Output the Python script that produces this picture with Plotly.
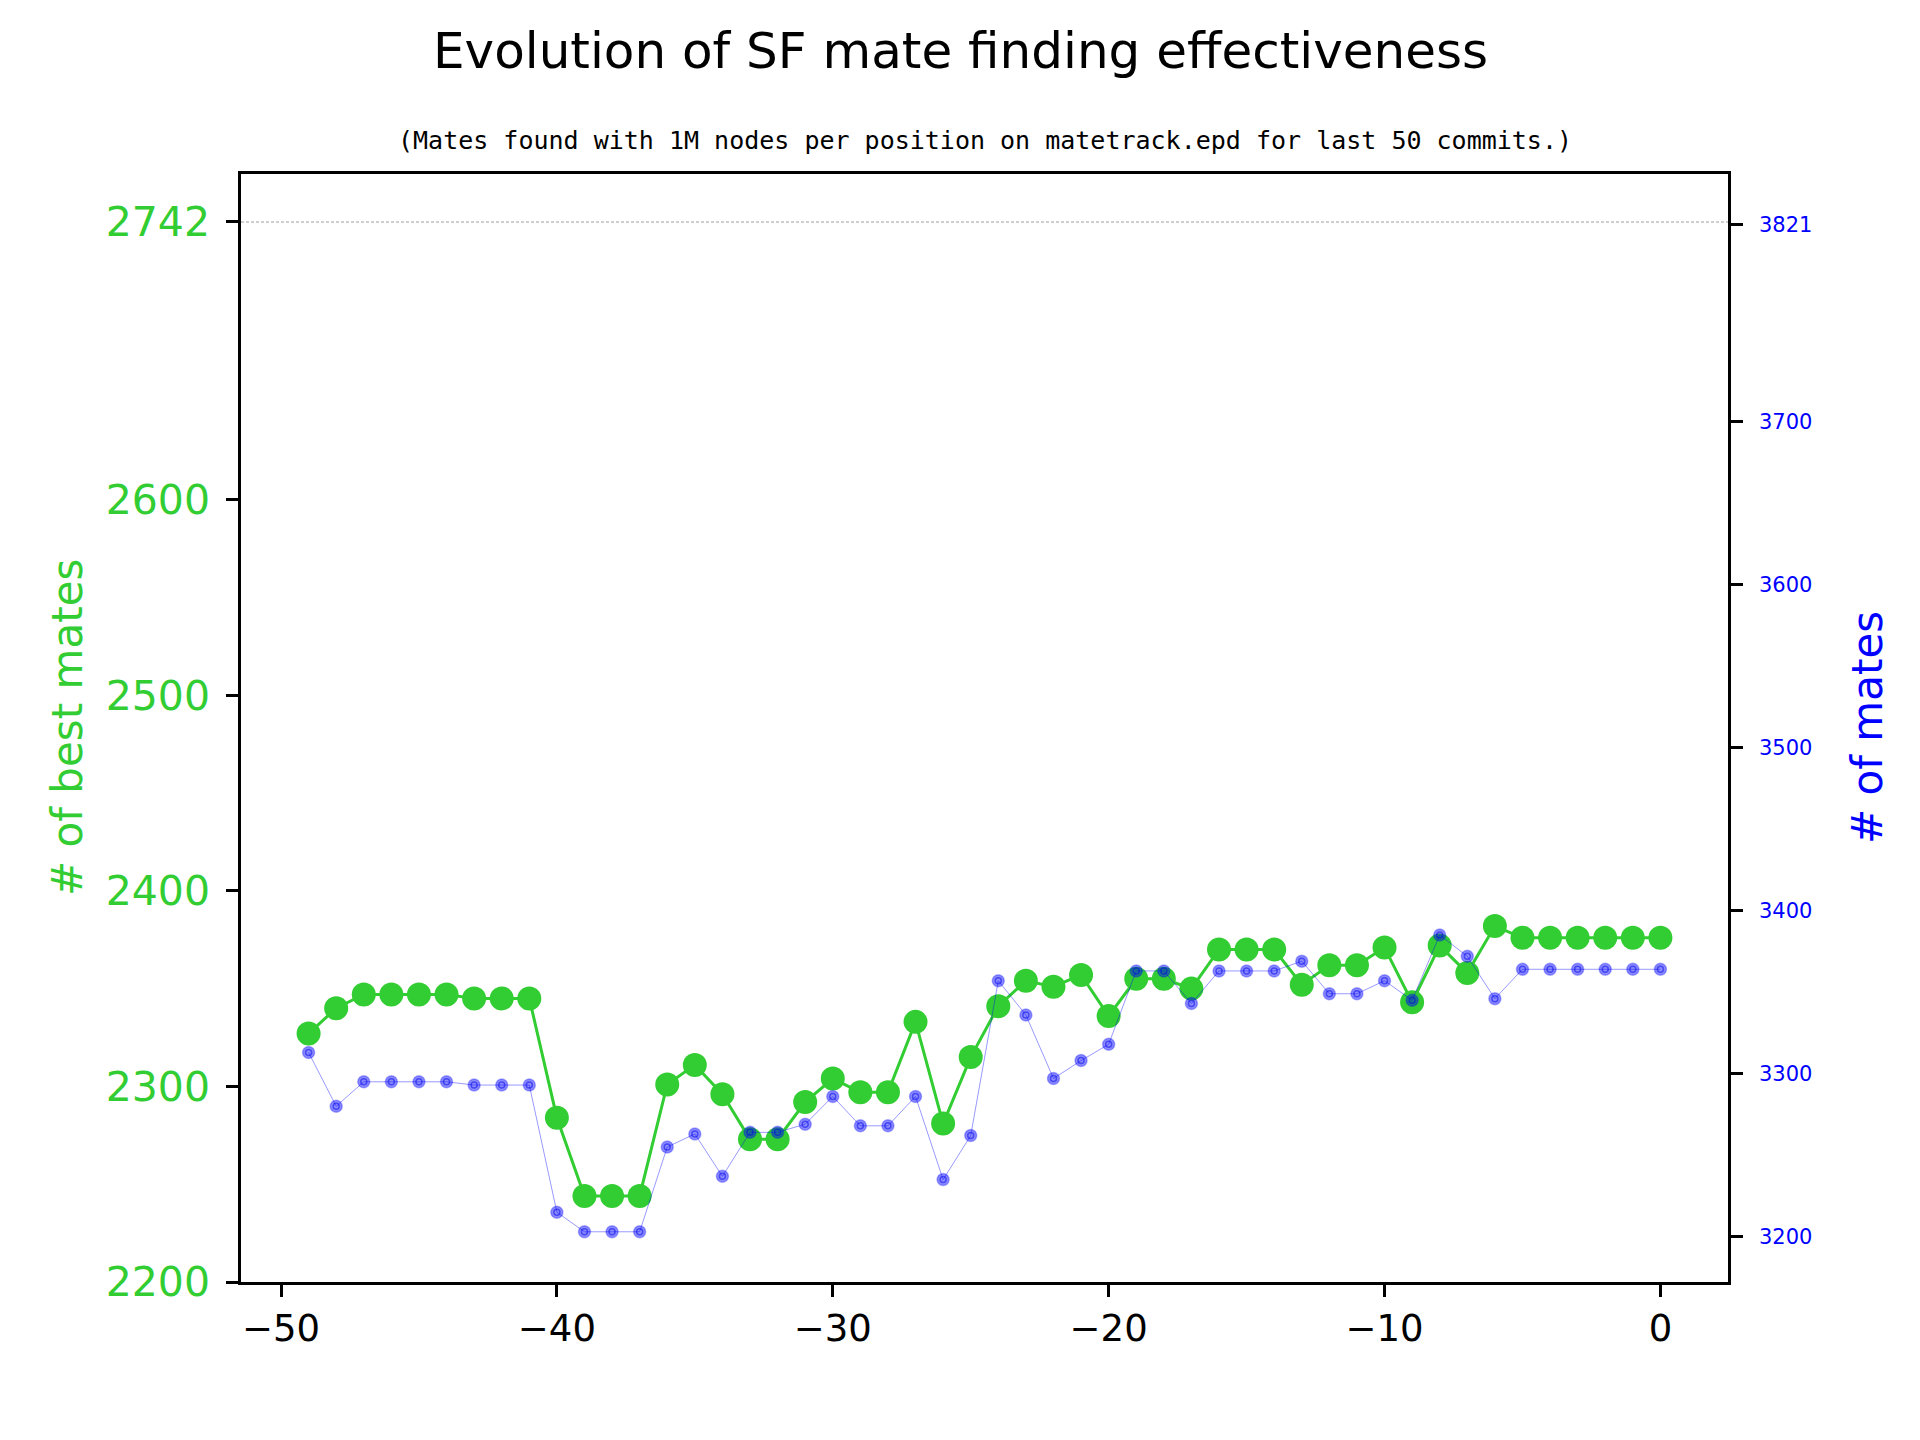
import plotly.graph_objects as go

# ---- data ----
commits = list(range(-49, 1))

best_mates = [2327, 2340, 2347, 2347, 2347, 2347, 2345, 2345, 2345, 2284,
              2244, 2244, 2244, 2301, 2311, 2296, 2273, 2273, 2292, 2304,
              2297, 2297, 2333, 2281, 2315, 2341, 2354, 2351, 2357, 2336,
              2355, 2355, 2350, 2370, 2370, 2370, 2352, 2362, 2362, 2371,
              2343, 2372, 2358, 2382, 2376, 2376, 2376, 2376, 2376, 2376]

mates = [3313, 3280, 3295, 3295, 3295, 3295, 3293, 3293, 3293, 3215,
         3203, 3203, 3203, 3255, 3263, 3237, 3264, 3264, 3269, 3286,
         3268, 3268, 3286, 3235, 3262, 3357, 3336, 3297, 3308, 3318,
         3363, 3363, 3343, 3363, 3363, 3363, 3369, 3349, 3349, 3357,
         3345, 3385, 3372, 3346, 3364, 3364, 3364, 3364, 3364, 3364]

total_positions = 2742
left_ticks = [2200, 2300, 2400, 2500, 2600, 2742]
right_ticks = [3200, 3300, 3400, 3500, 3600, 3700, 3821]
x_ticks = [-50, -40, -30, -20, -10, 0]

title = "Evolution of SF mate finding effectiveness"
subtitle = "(Mates found with 1M nodes per position on matetrack.epd for last 50 commits.)"

GREEN = "#32CD32"
BLUE = "#0000FF"

# plot-area geometry (pixels)
L, R, T, B = 241, 1728, 174, 1282
W, H = 1920, 1440
pw, ph = R - L, B - T

fig = go.Figure()

fig.add_trace(go.Scatter(
    x=commits, y=best_mates, mode="lines+markers", yaxis="y",
    line=dict(color=GREEN, width=3),
    marker=dict(color=GREEN, size=24, line=dict(width=0)),
    showlegend=False,
))

fig.add_trace(go.Scatter(
    x=commits, y=mates, mode="lines+markers", yaxis="y2",
    line=dict(color="rgba(0,0,255,0.4)", width=1),
    marker=dict(color="rgba(0,0,255,0.45)", size=12,
                line=dict(width=1.5, color="rgba(0,0,255,0.3)")),
    showlegend=False,
))
fig.add_trace(go.Scatter(
    x=commits, y=mates, mode="markers", yaxis="y2",
    marker=dict(symbol="circle-open", size=6, color="rgba(0,0,230,0.5)",
                line=dict(width=1.5, color="rgba(0,0,230,0.5)")),
    showlegend=False, hoverinfo="skip",
))

# dotted reference line at total positions
fig.add_shape(type="line", xref="paper", x0=0, x1=1, yref="y",
              y0=total_positions, y1=total_positions,
              line=dict(color="#c0c0c0", width=1.5, dash="3px,2px"), layer="below")

axis_common = dict(showline=True, linecolor="black", linewidth=2.5,
                   ticks="outside", ticklen=12, tickwidth=2.5, tickcolor="black",
                   showgrid=False, zeroline=False)

fig.update_layout(
    width=W, height=H,
    margin=dict(l=L, r=W - R, t=T, b=H - B, autoexpand=False),
    paper_bgcolor="white", plot_bgcolor="white",
    font=dict(family="DejaVu Sans", color="black"),
    xaxis=dict(range=[-51.45, 2.45], tickvals=x_ticks,
               ticktext=["\u221250", "\u221240", "\u221230", "\u221220", "\u221210", "0"],
               tickfont=dict(size=37, color="black"), mirror=True, **axis_common),
    yaxis=dict(range=[2200, 2766.5], tickvals=left_ticks, ticklabelstandoff=8,
               tickfont=dict(size=41, color=GREEN), **axis_common),
    yaxis2=dict(range=[3172.2, 3851.8], tickvals=right_ticks, overlaying="y", side="right",
                ticklabelstandoff=12,
                tickfont=dict(size=21, color=BLUE), **axis_common),
)

fig.add_annotation(text=title, xref="paper", yref="paper",
                   x=(960 - L) / pw, y=(B - 51) / ph, xanchor="center", yanchor="middle",
                   showarrow=False, font=dict(size=50, color="black", family="DejaVu Sans"))
fig.add_annotation(text=subtitle, xref="paper", yref="paper",
                   x=0.5, y=(B - 140) / ph, xanchor="center", yanchor="middle",
                   showarrow=False, font=dict(size=25, color="black", family="DejaVu Sans Mono"))
fig.add_annotation(text="# of best mates", xref="paper", yref="paper",
                   x=(67 - L) / pw, y=0.5, xanchor="center", yanchor="middle", textangle=-90,
                   showarrow=False, font=dict(size=42, color=GREEN, family="DejaVu Sans"))
fig.add_annotation(text="# of mates", xref="paper", yref="paper",
                   x=(1867 - L) / pw, y=0.5, xanchor="center", yanchor="middle", textangle=-90,
                   showarrow=False, font=dict(size=42, color=BLUE, family="DejaVu Sans"))

fig.write_html("out.html")
